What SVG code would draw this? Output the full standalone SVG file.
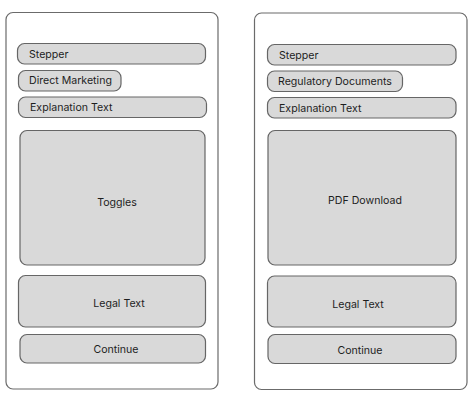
<svg xmlns="http://www.w3.org/2000/svg" width="474" height="402" viewBox="0 0 474 402">
<style>
.frame{fill:#ffffff;stroke:#6b6b6b;stroke-width:1.2}
.box{fill:#d9d9d9;stroke:#666666;stroke-width:1.2}
text{font-family:Inter,"Noto Sans",sans-serif;font-size:10.6px;fill:#1e1e1e}
.c{text-anchor:middle}
</style>
<rect width="474" height="402" fill="#ffffff"/>
<g id="screen-left">
<rect class="frame" x="6" y="12.5" width="212" height="376.5" rx="7"/>
<g id="l-stepper"><rect class="box" x="17.5" y="43.5" width="188" height="20.5" rx="7"/><text x="29" y="58">Stepper</text></g>
<g id="l-direct"><rect class="box" x="18.5" y="70.5" width="102.5" height="20.5" rx="7"/><text x="29" y="84">Direct Marketing</text></g>
<g id="l-explanation"><rect class="box" x="18.5" y="97" width="188" height="20.5" rx="7"/><text x="30" y="111">Explanation Text</text></g>
<g id="l-toggles"><rect class="box" x="20" y="130.5" width="185" height="134.5" rx="7"/><text class="c" x="117" y="206">Toggles</text></g>
<g id="l-legal"><rect class="box" x="18.5" y="275.5" width="187" height="51.5" rx="7"/><text class="c" x="119" y="307">Legal Text</text></g>
<g id="l-continue"><rect class="box" x="20" y="334.5" width="185.5" height="28.5" rx="7"/><text class="c" x="116" y="353">Continue</text></g>
</g>
<g id="screen-right">
<rect class="frame" x="254.5" y="13" width="212.5" height="376.5" rx="7"/>
<g id="r-stepper"><rect class="box" x="267.5" y="44.5" width="188.5" height="20.5" rx="7"/><text x="279" y="59">Stepper</text></g>
<g id="r-regulatory"><rect class="box" x="267.5" y="71" width="135" height="20.5" rx="7"/><text x="278" y="85">Regulatory Documents</text></g>
<g id="r-explanation"><rect class="box" x="267.5" y="97.5" width="188.5" height="20.5" rx="7"/><text x="279" y="112">Explanation Text</text></g>
<g id="r-pdf"><rect class="box" x="268" y="130.5" width="188" height="134.5" rx="7"/><text class="c" x="365" y="204">PDF Download</text></g>
<g id="r-legal"><rect class="box" x="267.5" y="276" width="188.5" height="51" rx="7"/><text class="c" x="358" y="308">Legal Text</text></g>
<g id="r-continue"><rect class="box" x="268" y="334.5" width="188" height="29" rx="7"/><text class="c" x="360" y="354">Continue</text></g>
</g>
<g id="connectors"/>
</svg>
